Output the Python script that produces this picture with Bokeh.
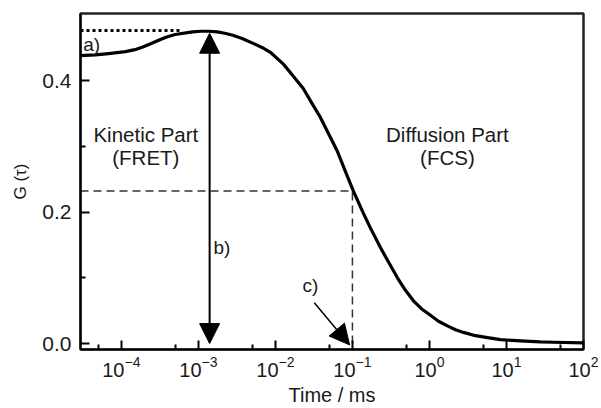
from bokeh.plotting import figure
from bokeh.models import (Range1d, FixedTicker, PrintfTickFormatter, Arrow,
                          NormalHead, ColumnDataSource)
from bokeh.core.properties import value
from bokeh.embed import file_html
from bokeh.resources import INLINE

# ---- data ----
tau = [2.9e-5, 4.6e-5, 6.8e-5, 1.13e-4, 1.5e-4, 1.9e-4, 2.4e-4, 3.0e-4, 3.8e-4,
       5.0e-4, 8.4e-4, 1.07e-3, 1.35e-3, 1.77e-3, 2.2e-3, 2.8e-3, 3.7e-3,
       5.5e-3, 6.8e-3, 8.6e-3, 1.27e-2, 1.7e-2, 2.3e-2, 3.0e-2, 3.8e-2,
       4.9e-2, 6.4e-2, 8.1e-2, 0.103, 0.139, 0.171, 0.231, 0.294, 0.384,
       0.488, 0.62, 0.787, 1.03, 1.31, 1.71, 2.18, 2.77, 3.96, 5.66, 8.36,
       15.2, 27.5, 40.7, 100.0]
G = [0.438, 0.439, 0.441, 0.444, 0.447, 0.451, 0.456, 0.461, 0.466,
     0.470, 0.474, 0.475, 0.475, 0.474, 0.472, 0.469, 0.464,
     0.455, 0.450, 0.443, 0.425, 0.407, 0.388, 0.365, 0.345,
     0.319, 0.292, 0.262, 0.232, 0.198, 0.176, 0.146, 0.124, 0.100,
     0.081, 0.065, 0.053, 0.043, 0.034, 0.027, 0.021, 0.017, 0.012, 0.009,
     0.006, 0.004, 0.0025, 0.002, 0.001]

x_ticks = [1e-4, 1e-3, 1e-2, 1e-1, 1e0, 1e1, 1e2]
x_minor = [5e-5, 5e-4, 5e-3, 5e-2, 5e-1, 5e0, 5e1]
y_ticks = [0.0, 0.2, 0.4]
y_minor = [0.1, 0.3]

x_min, x_max = 2.95e-5, 100.0
y_min, y_max = -0.009, 0.502

g_max = 0.476          # dotted level a)
g_half = 0.232         # dashed half level
tau_d = 0.1            # diffusion time
tau_dot_end = 6.2e-4
tau_b = 1.4e-3
g_b_top = 0.472
c_tail = (0.032, 0.062)
c_tip = (0.092, -0.002)

labels_x = [3.2e-5, 1.57e-3, 0.0285]
labels_y = [0.455, 0.146, 0.088]
labels_t = ["a)", "b)", "c)"]
labels_align = ["left", "left", "center"]

part_x = [2.08e-4, 2.08e-4, 1.71, 1.71]
part_y = [0.318, 0.283, 0.318, 0.283]
part_t = ["Kinetic Part", "(FRET)", "Diffusion Part", "(FCS)"]

FONT = "Liberation Sans"
TXT = "#1a1a1a"

p = figure(width=601, height=408, x_axis_type="log",
           x_range=Range1d(x_min, x_max), y_range=Range1d(y_min, y_max),
           output_backend="svg", toolbar_location=None,
           min_border_left=80, min_border_right=18, min_border_top=13,
           min_border_bottom=59)
p.grid.visible = False
p.outline_line_color = "#222222"
p.outline_line_width = 2.5

p.xaxis.ticker = FixedTicker(ticks=x_ticks, minor_ticks=x_minor)
p.yaxis.ticker = FixedTicker(ticks=y_ticks, minor_ticks=y_minor)
p.yaxis.formatter = PrintfTickFormatter(format="%.1f")

for ax in (p.xaxis[0], p.yaxis[0]):
    ax.axis_line_width = 2
    ax.axis_line_color = "black"
    ax.major_tick_in = 9
    ax.major_tick_out = 0
    ax.minor_tick_in = 5
    ax.minor_tick_out = 0
    ax.major_tick_line_width = 2
    ax.minor_tick_line_width = 2
    ax.major_tick_line_color = "black"
    ax.minor_tick_line_color = "black"
    ax.major_label_text_font = FONT
    ax.major_label_text_color = TXT
    ax.axis_label_text_font = FONT
    ax.axis_label_text_font_style = "normal"
    ax.axis_label_text_color = TXT

p.xaxis.major_label_text_font_size = "20px"
p.yaxis.major_label_text_font_size = "21px"
p.xaxis.axis_label = "Time / ms"
p.xaxis.axis_label_text_font_size = "20px"
p.xaxis.major_label_standoff = 6
p.xaxis.axis_label_standoff = 4
p.yaxis.axis_label = "G (τ)"
p.yaxis.axis_label_text_font_size = "17px"
p.yaxis.major_label_standoff = 9
p.yaxis.axis_label_standoff = 9

# reference lines
p.line([x_min, tau_dot_end], [g_max, g_max], line_color="black",
       line_width=3, line_dash="3 3")
p.line([x_min, tau_d], [g_half, g_half], line_color="#333333",
       line_width=1.5, line_dash="8 5")
p.line([tau_d, tau_d], [0.0, g_half], line_color="#333333",
       line_width=1.5, line_dash="8 5")

# curve
p.line(tau, G, line_color="black", line_width=3.2, line_join="round")

# arrows
p.add_layout(Arrow(x_start=tau_b, y_start=0.0, x_end=tau_b, y_end=g_b_top,
                   line_width=2, line_color="black",
                   start=NormalHead(size=20, fill_color="black", line_color="black"),
                   end=NormalHead(size=20, fill_color="black", line_color="black")))
p.add_layout(Arrow(x_start=c_tail[0], y_start=c_tail[1], x_end=c_tip[0], y_end=c_tip[1],
                   line_width=1.5, line_color="black",
                   end=NormalHead(size=20, fill_color="black", line_color="black")))

# labels
src = ColumnDataSource(dict(x=labels_x, y=labels_y, t=labels_t, a=labels_align))
p.text(x="x", y="y", text="t", text_align="a", source=src, text_baseline="middle",
       text_font=value(FONT), text_font_size="19px", text_color=TXT)
src2 = ColumnDataSource(dict(x=part_x, y=part_y, t=part_t))
p.text(x="x", y="y", text="t", source=src2, text_align="center",
       text_baseline="middle", text_font=value(FONT), text_font_size="20.5px",
       text_color=TXT)

open("out.html", "w").write(file_html(p, INLINE))
